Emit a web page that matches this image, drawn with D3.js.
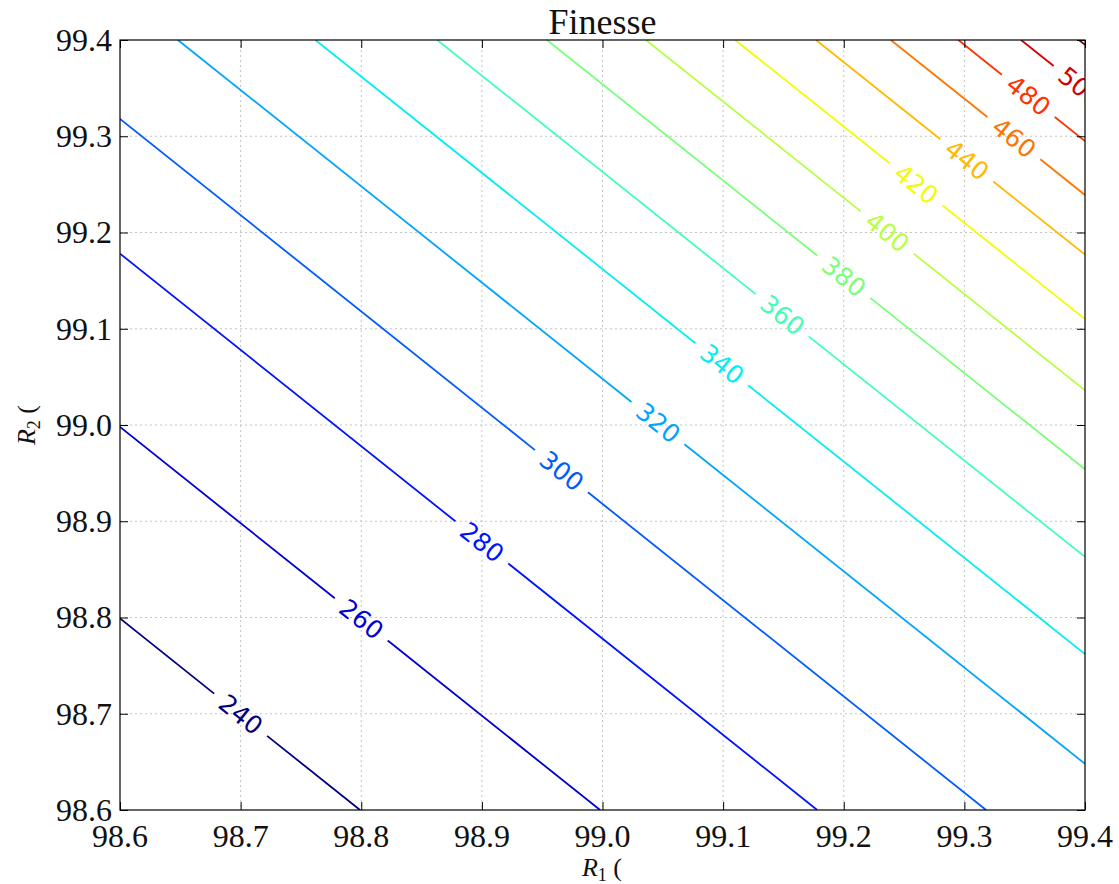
<!DOCTYPE html>
<html>
<head>
<meta charset="utf-8">
<script src="https://cdn.jsdelivr.net/npm/d3@7"></script>
<style>
  body { margin: 0; background: #fff; }
</style>
</head>
<body>
<div id="svg"></div>
<script>
// contour levels of the finesse, and where each line crosses the frame (R1, R2 in %)
let levels = [240, 260, 280, 300, 320, 340, 360, 380, 400, 420, 440, 460, 480, 500, 520];
let enterR1 = [98.6, 98.6, 98.6, 98.6, 98.648, 98.762, 98.863, 98.954, 99.036, 99.110, 99.177, 99.239, 99.295, 99.347, 99.395];
let enterR2 = [98.799, 98.998, 99.178, 99.318, 99.4, 99.4, 99.4, 99.4, 99.4, 99.4, 99.4, 99.4, 99.4, 99.4, 99.4];
let leaveR1 = [98.799, 98.998, 99.178, 99.318, 99.4, 99.4, 99.4, 99.4, 99.4, 99.4, 99.4, 99.4, 99.4, 99.4, 99.4];
let leaveR2 = [98.6, 98.6, 98.6, 98.6, 98.648, 98.762, 98.863, 98.954, 99.036, 99.110, 99.177, 99.239, 99.295, 99.347, 99.395];
// R1 where the inline label sits on each line (null = no label)
let labelR1 = [98.700, 98.800, 98.900, 98.966, 99.046, 99.099, 99.149, 99.200, 99.236, 99.260, 99.302, 99.341, 99.353, 99.396, null];
let ticks = [98.6, 98.7, 98.8, 98.9, 99.0, 99.1, 99.2, 99.3, 99.4];

//dimensions
let w = 1119;
let h = 884;
let pLeft = 120, pRight = 1085, pTop = 40, pBottom = 810;

let svg = d3.select('#svg').
append('svg').
attr('width', w).
attr('height', h);

let xScale = d3.scaleLinear().domain([98.6, 99.4]).range([pLeft, pRight]);
let yScale = d3.scaleLinear().domain([98.6, 99.4]).range([pBottom, pTop]);

//jet colormap
let jetR = d3.scaleLinear().domain([0, 0.35, 0.66, 0.89, 1]).range([0, 0, 1, 1, 0.5]);
let jetG = d3.scaleLinear().domain([0, 0.125, 0.375, 0.64, 0.91, 1]).range([0, 0, 1, 1, 0, 0]);
let jetB = d3.scaleLinear().domain([0, 0.11, 0.34, 0.65, 1]).range([0.5, 1, 1, 0, 0]);
let levelScale = d3.scaleLinear().domain([d3.min(levels), d3.max(levels)]).range([0, 1]);
function jet(v) {
  let t = levelScale(v);
  return d3.rgb(jetR(t) * 255, jetG(t) * 255, jetB(t) * 255).toString();
}

//grid
let grid = svg.append('g');
grid.selectAll('line.gx').
data(ticks.slice(1, -1)).
enter().
append('line').
attr('x1', d => xScale(d)).
attr('x2', d => xScale(d)).
attr('y1', pTop).
attr('y2', pBottom).
attr('stroke', '#c4c4c4').
attr('stroke-dasharray', '2,3');
grid.selectAll('line.gy').
data(ticks.slice(1, -1)).
enter().
append('line').
attr('x1', pLeft).
attr('x2', pRight).
attr('y1', d => yScale(d)).
attr('y2', d => yScale(d)).
attr('stroke', '#c4c4c4').
attr('stroke-dasharray', '2,3');

svg.append('clipPath').
attr('id', 'plotclip').
append('rect').
attr('x', pLeft).
attr('y', pTop).
attr('width', pRight - pLeft).
attr('height', pBottom - pTop);

let plot = svg.append('g').attr('clip-path', 'url(#plotclip)');

//contour lines with inline labels
let lw = 1.8;
levels.forEach((lev, i) => {
  let col = jet(lev);
  let p0 = [xScale(enterR1[i]), yScale(enterR2[i])];
  let p1 = [xScale(leaveR1[i]), yScale(leaveR2[i])];
  let dx = p1[0] - p0[0], dy = p1[1] - p0[1];
  let len = Math.sqrt(dx * dx + dy * dy);
  let ux = dx / len, uy = dy / len;

  if (labelR1[i] == null) {
    plot.append('line').
    attr('x1', p0[0]).attr('y1', p0[1]).
    attr('x2', p1[0]).attr('y2', p1[1]).
    attr('stroke', col).
    attr('stroke-width', lw);
    return;
  }

  let t = (labelR1[i] - enterR1[i]) / (leaveR1[i] - enterR1[i]);
  let cx = p0[0] + t * dx, cy = p0[1] + t * dy;
  let angle = Math.atan2(dy, dx) * 180 / Math.PI;

  let label = plot.append('text').
  text(lev).
  attr('transform', 'translate(' + cx + ',' + cy + ') rotate(' + angle + ')').
  attr('text-anchor', 'middle').
  attr('dominant-baseline', 'central').
  attr('font-family', 'DejaVu Sans, sans-serif').
  attr('font-size', 25).
  attr('fill', col);

  let gap = label.node().getComputedTextLength() / 2 + 10;
  let d0 = Math.max(0, t * len - gap);
  let d1 = Math.min(len, t * len + gap);
  if (d0 > 0) {
    plot.append('line').
    attr('x1', p0[0]).attr('y1', p0[1]).
    attr('x2', p0[0] + ux * d0).attr('y2', p0[1] + uy * d0).
    attr('stroke', col).
    attr('stroke-width', lw);
  }
  if (d1 < len) {
    plot.append('line').
    attr('x1', p0[0] + ux * d1).attr('y1', p0[1] + uy * d1).
    attr('x2', p1[0]).attr('y2', p1[1]).
    attr('stroke', col).
    attr('stroke-width', lw);
  }
});

//axes, ticks pointing inward on all four sides
let tickSize = 8;
svg.append('g').
attr('transform', 'translate(0,' + pBottom + ')').
call(d3.axisTop(xScale).tickValues(ticks).tickSize(tickSize).tickFormat(''));
svg.append('g').
attr('transform', 'translate(0,' + pTop + ')').
call(d3.axisBottom(xScale).tickValues(ticks).tickSize(tickSize).tickFormat(''));
svg.append('g').
attr('transform', 'translate(' + pLeft + ',0)').
call(d3.axisRight(yScale).tickValues(ticks).tickSize(tickSize).tickFormat(''));
svg.append('g').
attr('transform', 'translate(' + pRight + ',0)').
call(d3.axisLeft(yScale).tickValues(ticks).tickSize(tickSize).tickFormat(''));
svg.selectAll('.domain').remove();
svg.selectAll('.tick line').attr('stroke', '#000');

svg.append('rect').
attr('x', pLeft).
attr('y', pTop).
attr('width', pRight - pLeft).
attr('height', pBottom - pTop).
attr('fill', 'none').
attr('stroke', '#000').
attr('stroke-width', 1.2);

//tick labels
let fmt = d3.format('.1f');
svg.selectAll('text.xt').
data(ticks).
enter().
append('text').
attr('x', d => xScale(d)).
attr('y', 847).
attr('text-anchor', 'middle').
attr('font-family', 'Liberation Serif, serif').
attr('font-size', 32).
attr('fill', '#111').
text(d => fmt(d));
svg.selectAll('text.yt').
data(ticks).
enter().
append('text').
attr('x', 112).
attr('y', d => yScale(d)).
attr('dy', '0.34em').
attr('text-anchor', 'end').
attr('font-family', 'Liberation Serif, serif').
attr('font-size', 32).
attr('fill', '#111').
text(d => fmt(d));

//title and axis labels
svg.append('text').
attr('x', (pLeft + pRight) / 2).
attr('y', 34).
attr('text-anchor', 'middle').
attr('font-family', 'Liberation Serif, serif').
attr('font-size', 36).
attr('fill', '#111').
text('Finesse');

let xl = svg.append('text').
attr('x', 602).
attr('y', 876).
attr('text-anchor', 'middle').
attr('font-family', 'Liberation Serif, serif').
attr('font-size', 26).
attr('fill', '#111');
xl.append('tspan').attr('font-style', 'italic').text('R');
xl.append('tspan').attr('font-size', 18).attr('dy', 5).text('1');
xl.append('tspan').attr('dy', -5).text(' (');

let yl = svg.append('text').
attr('transform', 'translate(35,425) rotate(-90)').
attr('text-anchor', 'middle').
attr('font-family', 'Liberation Serif, serif').
attr('font-size', 26).
attr('fill', '#111');
yl.append('tspan').attr('font-style', 'italic').text('R');
yl.append('tspan').attr('font-size', 18).attr('dy', 5).text('2');
yl.append('tspan').attr('dy', -5).text(' (');
</script>
</body>
</html>
